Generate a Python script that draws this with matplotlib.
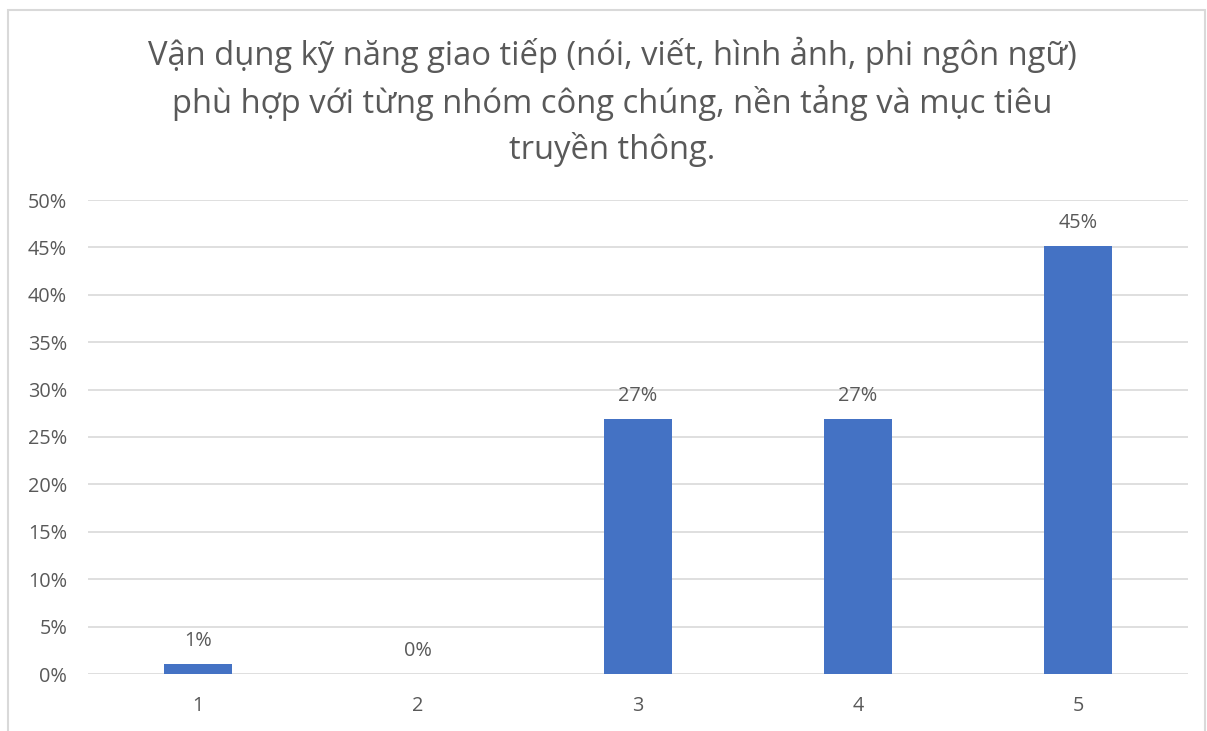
import matplotlib.pyplot as plt
from matplotlib.patches import Rectangle

categories = ['1', '2', '3', '4', '5']
values = [0.011, 0.0, 0.269, 0.269, 0.452]
labels = ['1%', '0%', '27%', '27%', '45%']
yticks = [0, 0.05, 0.10, 0.15, 0.20, 0.25, 0.30, 0.35, 0.40, 0.45, 0.50]
title = ('Vận dụng kỹ năng giao tiếp (nói, viết, hình ảnh, phi ngôn ngữ)\n'
         'phù hợp với từng nhóm công chúng, nền tảng và mục tiêu\n'
         'truyền thông.')

plt.rcParams['font.family'] = ['Open Sans', 'DejaVu Sans']
txt = '#595959'

fig = plt.figure(figsize=(12.07, 7.31), dpi=100)
W, H = 1207, 731
ax = fig.add_axes([88 / W, 1 - 674 / H, 1100 / W, 474 / H])

x = range(len(categories))
ax.bar(x, values, width=0.31, color='#4472C4', zorder=3)
for i, (v, l) in enumerate(zip(values, labels)):
    ax.annotate(l, (i, v), xytext=(0, 9), textcoords='offset points',
                ha='center', va='bottom', fontsize=14.3, color=txt)

ax.set_xlim(-0.5, len(categories) - 0.5)
ax.set_ylim(0, 0.5)
ax.set_yticks(yticks)
ax.set_yticklabels([f'{int(round(t * 100))}%' for t in yticks])
ax.set_xticks(list(x))
ax.set_xticklabels(categories)
ax.tick_params(axis='both', length=0, labelsize=14.3, colors=txt)
ax.tick_params(axis='y', pad=15)
ax.tick_params(axis='x', pad=16)
ax.grid(axis='y', color='#D9D9D9', linewidth=1.2, zorder=0)
for s in ax.spines.values():
    s.set_visible(False)

fig.text(0.507, 1 - 37 / H, title, ha='center', va='top', fontsize=23.6,
         color=txt, linespacing=1.4)

fig.patches.append(Rectangle((8 / W, -0.05), (1205 - 8) / W, 1 - 10 / H + 0.05,
                             transform=fig.transFigure, fill=False,
                             edgecolor='#D9D9D9', linewidth=1.5))

fig.savefig('out.png', dpi=100)
